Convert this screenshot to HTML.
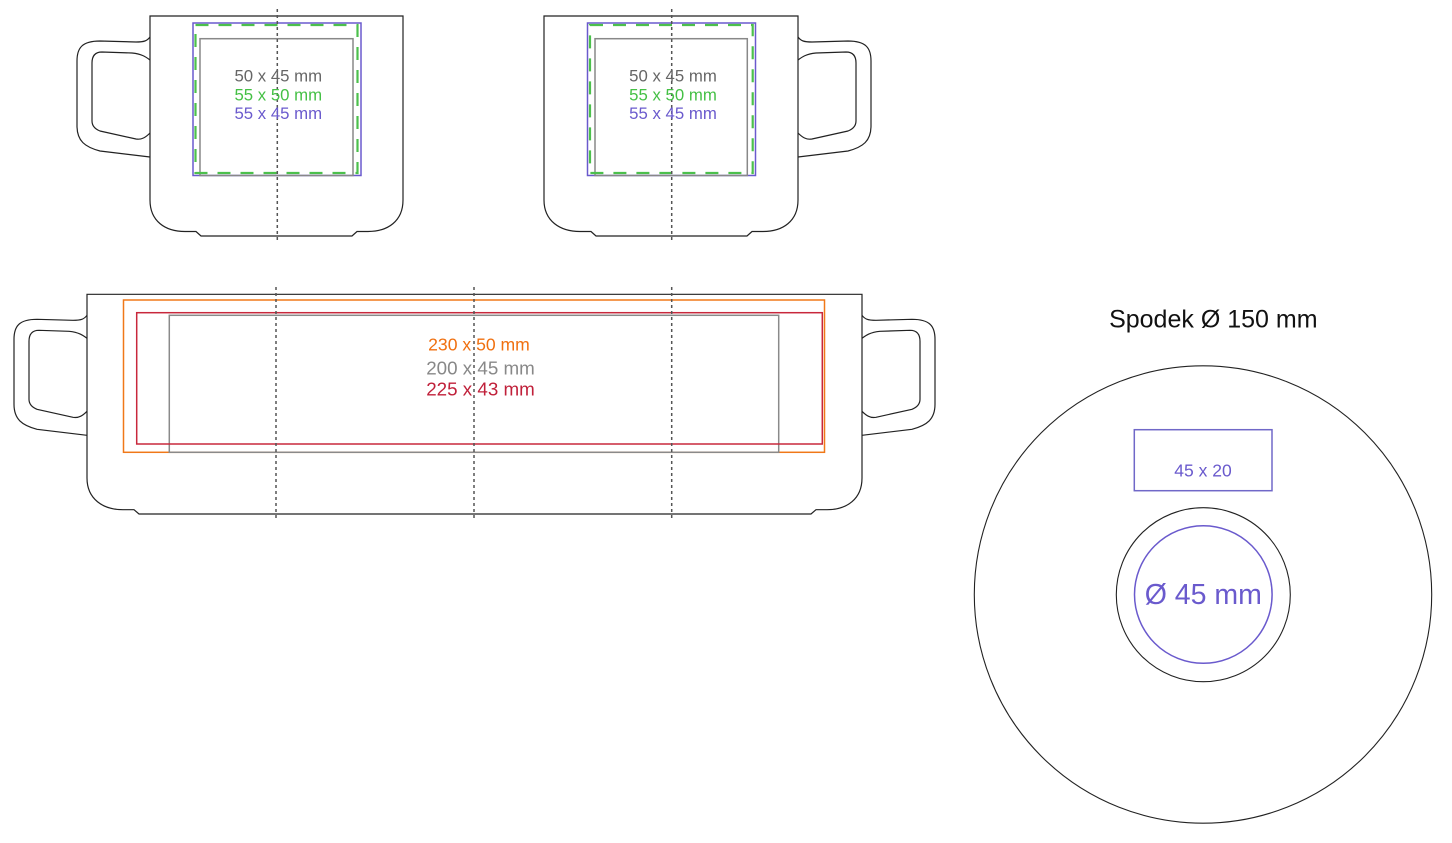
<!DOCTYPE html>
<html>
<head>
<meta charset="utf-8">
<style>
html,body{margin:0;padding:0;background:#fff;}
svg{display:block;}
text{font-family:"Liberation Sans", Arial, sans-serif;}
</style>
</head>
<body>
<svg width="1452" height="843" viewBox="0 0 1452 843" xmlns="http://www.w3.org/2000/svg">
<defs>
  <g id="handle" fill="none" stroke="#222" stroke-width="1.2">
    <path d="M0,21 C-3,25 -6,26 -14,26 L-50,25 C-68,25 -73,32 -73,45 L-73,110 C-73,125 -65,131 -50,135 L0,141"/>
    <path d="M0,44 C-4,41 -8,38 -18,37 L-48,36 C-55,36 -58,40 -58,47 L-58,105 C-58,110 -55,113 -50,115 L-14,123 C-8,124 -4,121 0,117"/>
  </g>
</defs>
<rect width="1452" height="843" fill="#fff"/>

<!-- Top-left mug -->
<path d="M150,16 H403 V200 C403,221 388,231.5 368,231.5 H357 L352,236 H201 L196,231.5 H185 C165,231.5 150,221 150,200 Z" fill="none" stroke="#222" stroke-width="1.2"/>
<use href="#handle" transform="translate(150,16)"/>
<rect x="193" y="23" width="168" height="152.5" fill="none" stroke="#6a5acd" stroke-width="1.5"/>
<rect x="200" y="38.7" width="153" height="136.8" fill="none" stroke="#888" stroke-width="1.5"/>
<rect x="195.5" y="25" width="162" height="148" fill="none" stroke="#4cc04c" stroke-width="2.2" stroke-dasharray="13,10"/>
<line x1="277.3" y1="9" x2="277.3" y2="241" stroke="#555" stroke-width="1.5" stroke-dasharray="3,3"/>
<text x="278.3" y="81.7" font-size="16.8" fill="#666" text-anchor="middle">50 x 45 mm</text>
<text x="278.3" y="100.7" font-size="16.8" fill="#45c045" text-anchor="middle">55 x 50 mm</text>
<text x="278.3" y="119" font-size="16.8" fill="#6a5acd" text-anchor="middle">55 x 45 mm</text>

<!-- Top-right mug -->
<path d="M544,16 H798 V200 C798,221 783,231.5 763,231.5 H752 L747,236 H596 L591,231.5 H580 C560,231.5 544,221 544,200 Z" fill="none" stroke="#222" stroke-width="1.2"/>
<use href="#handle" transform="translate(798,16) scale(-1,1)"/>
<rect x="587.5" y="23" width="168" height="152.5" fill="none" stroke="#6a5acd" stroke-width="1.5"/>
<rect x="595" y="38.7" width="152.3" height="136.8" fill="none" stroke="#888" stroke-width="1.5"/>
<rect x="590" y="25" width="162.7" height="148" fill="none" stroke="#4cc04c" stroke-width="2.2" stroke-dasharray="13,10"/>
<line x1="671.7" y1="9" x2="671.7" y2="241" stroke="#555" stroke-width="1.5" stroke-dasharray="3,3"/>
<text x="673" y="81.7" font-size="16.8" fill="#666" text-anchor="middle">50 x 45 mm</text>
<text x="673" y="100.7" font-size="16.8" fill="#45c045" text-anchor="middle">55 x 50 mm</text>
<text x="673" y="119" font-size="16.8" fill="#6a5acd" text-anchor="middle">55 x 45 mm</text>

<!-- Wide mug -->
<path d="M87,294.3 H862 V478 C862,499 847,509.7 827,509.7 H816 L811,514 H139 L134,509.7 H123 C103,509.7 87,499 87,478 Z" fill="none" stroke="#222" stroke-width="1.2"/>
<use href="#handle" transform="translate(87,294.3)"/>
<use href="#handle" transform="translate(862,294.3) scale(-1,1)"/>
<rect x="123.5" y="300" width="701" height="152.3" fill="none" stroke="#f07818" stroke-width="1.5"/>
<rect x="169.3" y="315.3" width="609.4" height="137" fill="none" stroke="#8a8a8a" stroke-width="1.5"/>
<rect x="136.7" y="312.7" width="685.6" height="131.3" fill="none" stroke="#c8283c" stroke-width="1.5"/>
<line x1="276" y1="287" x2="276" y2="519" stroke="#555" stroke-width="1.5" stroke-dasharray="3,3"/>
<line x1="474" y1="287" x2="474" y2="519" stroke="#555" stroke-width="1.5" stroke-dasharray="3,3"/>
<line x1="671.7" y1="287" x2="671.7" y2="519" stroke="#555" stroke-width="1.5" stroke-dasharray="3,3"/>
<text x="479" y="350.5" font-size="17.6" fill="#f07010" text-anchor="middle">230 x 50 mm</text>
<text x="480.5" y="374.5" font-size="18.8" fill="#888" text-anchor="middle">200 x 45 mm</text>
<text x="480.5" y="395.5" font-size="18.8" fill="#c0203a" text-anchor="middle">225 x 43 mm</text>

<!-- Saucer -->
<text x="1213.3" y="327.7" font-size="25" fill="#111" text-anchor="middle">Spodek Ø 150 mm</text>
<circle cx="1203" cy="594.5" r="228.7" fill="none" stroke="#222" stroke-width="1.1"/>
<rect x="1134.3" y="429.7" width="137.7" height="61" fill="none" stroke="#7068c8" stroke-width="1.5"/>
<text x="1203" y="476.7" font-size="17.5" fill="#6a5acd" text-anchor="middle">45 x 20</text>
<circle cx="1203.3" cy="594.7" r="87" fill="none" stroke="#222" stroke-width="1.1"/>
<circle cx="1203.3" cy="594.5" r="68.8" fill="none" stroke="#6a5acd" stroke-width="1.5"/>
<text x="1203.3" y="604" font-size="28.5" fill="#6a5acd" text-anchor="middle">Ø 45 mm</text>
</svg>
</body>
</html>
